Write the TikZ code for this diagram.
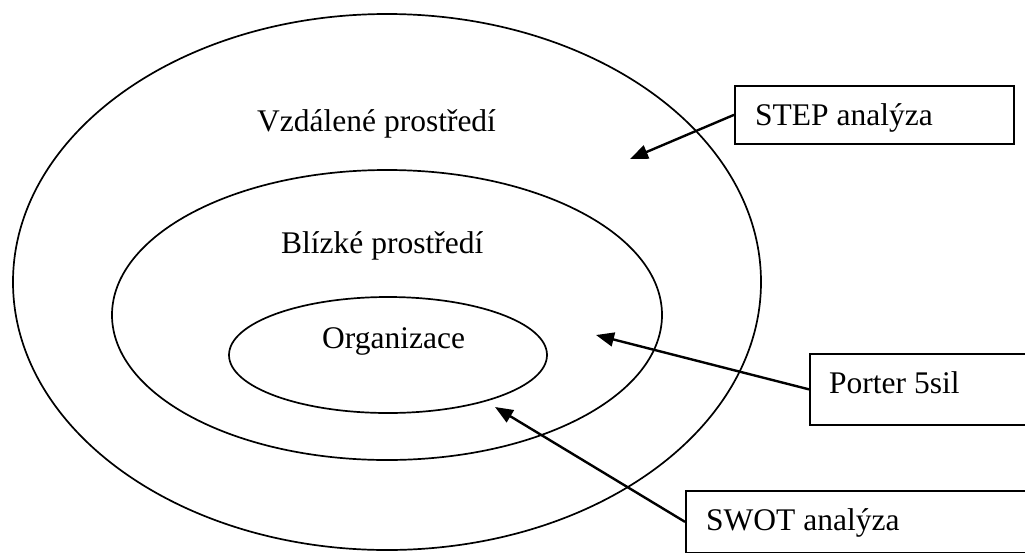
\documentclass[tikz,border=0pt]{standalone}
\usepackage{fontspec}
\setmainfont{Liberation Serif}
\usetikzlibrary{arrows.meta}
\begin{document}
\begin{tikzpicture}[x=1pt,y=-1pt,
  ring/.style={draw=black,line width=1.7pt},
  boxnode/.style={draw=black,line width=1.7pt,rectangle,inner sep=0pt,anchor=north west},
  lbl/.style={anchor=base west,inner sep=0pt,font=\fontsize{31.5}{38}\selectfont},
  arr/.style={line width=2.4pt,-{Triangle[length=18pt,width=14pt]}}]
\clip (0,0) rectangle (1025,552);
\fill[white] (0,0) rectangle (1025,552);
% ellipses
\draw[ring] (387,282) ellipse [x radius=374, y radius=268];
\draw[ring] (387,315) ellipse [x radius=275, y radius=145];
\draw[ring] (388,355) ellipse [x radius=159, y radius=58];
% labels in rings
\node[lbl] (far) at (257,131) {Vzdálené prostředí};
\node[lbl] (near) at (281,253) {Blízké prostředí};
\node[lbl] (org) at (322,348) {Organizace};
% boxes
\node[boxnode,minimum width=279,minimum height=58] (step) at (734,85) {};
\node[boxnode,minimum width=240,minimum height=71] (porter) at (809,353) {};
\node[boxnode,minimum width=360,minimum height=62] (swot) at (685,490) {};
\node[lbl] (steptxt) at (755,125) {STEP analýza};
\node[lbl] (portertxt) at (829,393) {Porter 5sil};
\node[lbl] (swottxt) at (706,530) {SWOT analýza};
% arrow targets
\coordinate (t1) at (630,159);
\coordinate (t2) at (596,335);
\coordinate (t3) at (495,407);
\draw[arr] (step.west) -- (t1);
\draw[arr] (porter.west) -- (t2);
\draw[arr] (swot.west) -- (t3);
\end{tikzpicture}
\end{document}
